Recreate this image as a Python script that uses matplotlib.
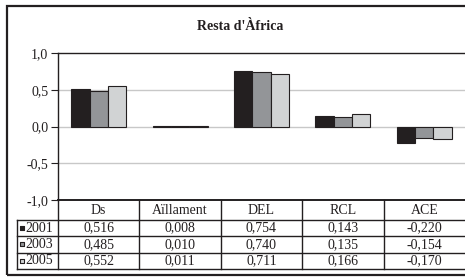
import matplotlib
matplotlib.use("Agg")
import matplotlib.pyplot as plt
from matplotlib.patches import Rectangle
import numpy as np

categories = ["Ds", "Aïllament", "DEL", "RCL", "ACE"]
years = ["2001", "2003", "2005"]
v2001 = [0.516, 0.008, 0.754, 0.143, -0.220]
v2003 = [0.485, 0.010, 0.740, 0.135, -0.154]
v2005 = [0.552, 0.011, 0.711, 0.166, -0.170]
series = [v2001, v2003, v2005]
colors = ["#231f20", "#939598", "#d1d3d4"]
yticks = [1.0, 0.5, 0.0, -0.5, -1.0]
ytick_labels = ["1,0", "0,5", "0,0", "-0,5", "-1,0"]
title = "Resta d'Àfrica"

W, H = 465, 279
fig = plt.figure(figsize=(W / 100, H / 100), dpi=100)
plt.rcParams['font.family'] = ['Liberation Serif', 'DejaVu Serif']
FS = 10

def fx(px):
    return px / W

def fy(py):
    return 1 - py / H

# outer frame
fig.add_artist(Rectangle((fx(7), fy(275)), fx(470) - fx(7), fy(6) - fy(275),
                         transform=fig.transFigure, fill=False, edgecolor="#231f20", lw=1.6))

fig.text(fx(240), fy(27), title, ha="center", va="center", fontsize=10, fontweight="semibold",
         color="#231f20")

# main axes
left_px, right_px, top_px, bot_px = 58, 465, 53, 200
ax = fig.add_axes([fx(left_px), fy(bot_px), fx(right_px) - fx(left_px), fy(top_px) - fy(bot_px)])
n = len(categories)
x = np.arange(n)
bw = 0.225
for i, (vals, c) in enumerate(zip(series, colors)):
    ax.bar(x + (i - 1) * bw, vals, width=bw, color=c, edgecolor="#231f20", lw=0.8, zorder=3)
ax.set_xlim(-0.5, n - 0.5)
ax.set_ylim(-1, 1)
ax.set_yticks(yticks)
ax.set_yticklabels(ytick_labels, fontsize=FS, color="#231f20")
ax.tick_params(axis="y", length=5, width=0.8, color="#231f20", pad=2)
ax.set_xticks([])
for yv in [0.5, 0.0, -0.5]:
    ax.axhline(yv, color="#c8c8c8", lw=1.0, zorder=1)
ax.spines["right"].set_visible(False)
ax.spines["bottom"].set_visible(False)
ax.spines["top"].set_color("#231f20")
ax.spines["left"].set_color("#231f20")
ax.spines["top"].set_linewidth(1.0)
ax.spines["left"].set_linewidth(1.0)

# table axes
tleft_px = 17
cat_w = 1.0 * (right_px - left_px) / n
lab_w = (left_px - tleft_px) / cat_w
px_u = 1.0 / cat_w
tax = fig.add_axes([fx(tleft_px), fy(269), fx(right_px) - fx(tleft_px), fy(200) - fy(269)])
tax.set_xlim(-0.5 - lab_w, n - 0.5)
rows_y = [200, 220, 236.3, 252.6, 269]
tax.set_ylim(269, 200)
tax.axis("off")
lc = "#231f20"
tax.plot([-0.5, n - 0.5], [200, 200], color=lc, lw=1.4, clip_on=False)
for yy in rows_y[1:]:
    tax.plot([-0.5 - lab_w, n - 0.5], [yy, yy], color=lc, lw=1.0, clip_on=False)
tax.plot([-0.5 - lab_w, -0.5 - lab_w], [220, 269], color=lc, lw=1.0, clip_on=False)
tax.plot([-0.5, -0.5], [200, 269], color=lc, lw=1.0, clip_on=False)
for k in range(1, n):
    tax.plot([k - 0.5, k - 0.5], [200, 269], color=lc, lw=1.0, clip_on=False)
for j, cat in enumerate(categories):
    tax.text(j, 210.5, cat, ha="center", va="center", fontsize=FS, color=lc)
for r, (yr, vals, c) in enumerate(zip(years, series, colors)):
    yc = (rows_y[r + 1] + rows_y[r + 2]) / 2
    tax.text(-0.5 - lab_w + 8 * px_u, yc, yr, ha="left", va="center", fontsize=FS, color=lc)
    tax.scatter([-0.5 - lab_w + 4.5 * px_u], [yc], marker="s", s=12, color=c,
                edgecolor="#231f20", lw=0.8, clip_on=False, zorder=3)
    for j, v in enumerate(vals):
        tax.text(j, yc, f"{v:.3f}".replace(".", ","), ha="center", va="center",
                 fontsize=FS, color=lc)

fig.savefig("out.png", dpi=100)
